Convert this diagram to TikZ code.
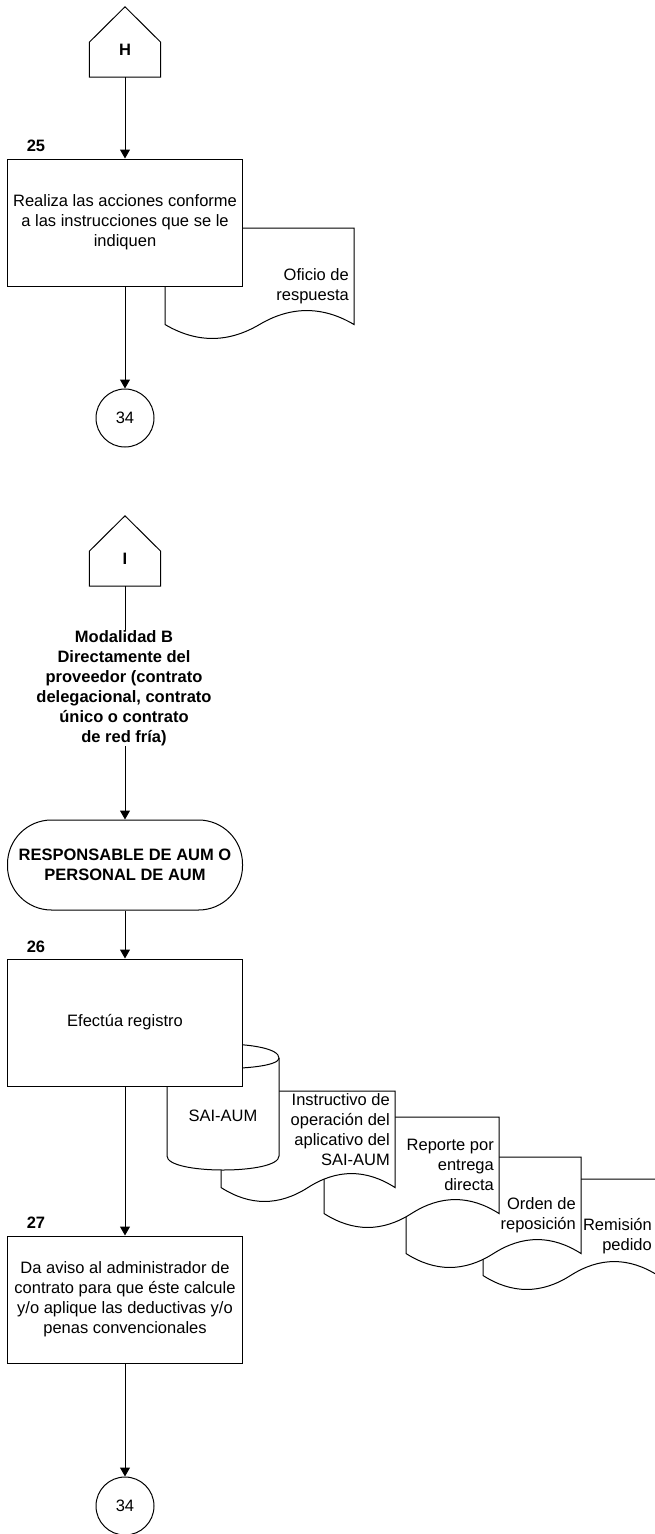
\documentclass[tikz,border=0pt]{standalone}
\usepackage{fontspec}
\setmainfont{Liberation Sans}
\usetikzlibrary{arrows.meta}
\tikzset{
  txt/.style={font=\fontsize{16.5}{20}\selectfont, inner sep=0pt},
  btxt/.style={font=\fontsize{16.5}{20}\selectfont\bfseries, inner sep=0pt},
  stepbox/.style={txt, draw, fill=white, line width=1pt, minimum width=235pt, minimum height=127pt, align=center},
  termbox/.style={btxt, draw, fill=white, line width=1pt, minimum width=235pt, minimum height=90pt, rounded corners=44pt, align=center},
  conn/.style={txt, circle, draw, fill=white, line width=1pt, minimum size=58pt},
  pentbox/.style={inner sep=0pt, minimum width=71pt, minimum height=70pt},
  shapeline/.style={draw, fill=white, line width=1pt},
  doctxt/.style={txt, align=right, anchor=east},
  arr/.style={line width=1pt, -{Triangle[length=9pt,width=10pt]}},
  plain/.style={line width=1pt}
}
\newcommand{\mydoc}[5]{%
  \path[shapeline] (#1,#2) -- ({#1+#3},#2) -- ({#1+#3},{#2+#4-0.5*#5})
    .. controls ({#1+5*#3/6},{#2+#4-1.1*#5}) and ({#1+2*#3/3},{#2+#4-1.1*#5}) .. ({#1+#3/2},{#2+#4-0.5*#5})
    .. controls ({#1+#3/3},{#2+#4+0.1*#5}) and ({#1+#3/6},{#2+#4+0.1*#5}) .. (#1,{#2+#4-0.5*#5}) -- cycle;}
\newcommand{\mypent}[1]{%
  \path[shapeline] (#1.south west) -- (#1.south east) -- ([yshift=35pt]#1.south east)
    -- (#1.north) -- ([yshift=35pt]#1.south west) -- cycle;}
\begin{document}
\begin{tikzpicture}[x=1pt,y=-1pt]
\useasboundingbox (0,0) rectangle (655,1534);
\clip (0,0) rectangle (655,1534);

% ---------- upper part ----------
\node[pentbox] (H) at (125,42) {};
\mypent{H}
\node[btxt] (Hl) at (125,50) {H};

\mydoc{165}{228}{189}{112}{31}
\node[doctxt] (oficio) at (349,286.5) {Oficio de\\respuesta};

\node[stepbox] (b25) at (125,222.5) {Realiza las acciones conforme\\a las instrucciones que se le\\indiquen};
\node[btxt] (n25) at (36,146) {25};

\node[conn] (c1) at (125,418) {34};

\draw[arr] (H.south) -- (b25.north);
\draw[arr] (b25.south) -- (c1.north);

% ---------- lower part ----------
\node[pentbox] (I) at (125,551) {};
\mypent{I}
\node[btxt] (Il) at (125,559) {I};

\node[termbox] (term) at (125,865) {RESPONSABLE DE AUM O\\PERSONAL DE AUM};
\draw[arr] (I.south) -- (term.north);
\node[btxt, fill=white, align=center] (mod) at (124,688.5) {Modalidad B\\Directamente del\\proveedor (contrato\\delegacional, contrato\\único o contrato\\de red fría)};

% documents (back to front)
\mydoc{483}{1179}{175}{112}{31}
\node[doctxt] (remision) at (652,1236) {Remisión\\pedido};
\mydoc{406}{1157}{175}{112}{31}
\node[doctxt] (orden) at (576,1215.5) {Orden de\\reposición};
\mydoc{324}{1117}{175}{112}{31}
\node[doctxt] (reporte) at (494,1165) {Reporte por\\entrega\\directa};
\mydoc{221}{1091}{174}{112}{31}
\node[doctxt] (instr) at (390,1130) {Instructivo de\\operación del\\aplicativo del\\SAI-AUM};

% cylinder
\path[shapeline] (167,1058) .. controls (167,{1044-14/3}) and (279,{1044-14/3}) .. (279,1058)
  -- (279,1156) .. controls (279,{1170+14/3}) and (167,{1170+14/3}) .. (167,1156) -- cycle;
\draw[plain] (167,1058) .. controls (167,1072) and (279,1072) .. (279,1058);
\node[txt] (sai) at (223,1116) {SAI-AUM};

\node[stepbox] (b26) at (125,1022.5) {Efectúa registro};
\node[btxt] (n26) at (36,947) {26};
\draw[arr] (term.south) -- (b26.north);

\node[stepbox] (b27) at (125,1299.5) {Da aviso al administrador de\\contrato para que éste calcule\\y/o aplique las deductivas y/o\\penas convencionales};
\node[btxt] (n27) at (36,1223) {27};
\draw[arr] (b26.south) -- (b27.north);

\node[conn] (c2) at (125,1506) {34};
\draw[arr] (b27.south) -- (c2.north);
\end{tikzpicture}
\end{document}
